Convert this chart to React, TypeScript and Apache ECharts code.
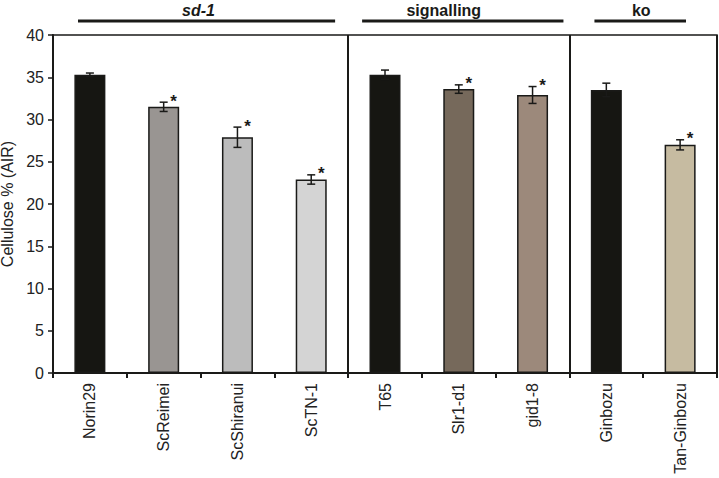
import React, { useEffect, useRef } from "react";
import * as echarts from "echarts";

const categories = ["Norin29", "ScReimei", "ScShiranui", "ScTN-1", "T65", "Slr1-d1", "gid1-8", "Ginbozu", "Tan-Ginbozu"];
const values = [35.3, 31.5, 27.9, 22.9, 35.3, 33.6, 32.9, 33.5, 27.0];
const errors = [0.2, 0.55, 1.2, 0.55, 0.55, 0.5, 1.0, 0.8, 0.6];
const significant = [false, true, true, true, false, true, true, false, true];
const barColors = ["#161612", "#999592", "#bcbcbc", "#d4d4d4", "#161612", "#76695b", "#9c897b", "#161612", "#c6bba1"];
const yTicks = { min: 0, max: 40, interval: 5 };
const groupNames = ["sd-1", "signalling", "ko"];
const groupStart = [0, 4, 7];
const groupEnd = [3, 6, 8];
const groupItalic = [true, false, false];

// layout offsets for the group annotations (pixels relative to group boundaries)
const groupLineInsetLeft = [25, 14, 25];
const groupLineInsetRight = [13, 6, 31];
const groupLabelShift = [-2, -15, -2];

const FONT = "'Liberation Sans', Arial, sans-serif";
const INK = "#1a1a18";

export default function App() {
  const ref = useRef<HTMLDivElement>(null);

  useEffect(() => {
    if (!ref.current) return;
    const chart = echarts.init(ref.current, undefined, { renderer: "svg" });

    const option: any = {
      animation: false,
      backgroundColor: "#ffffff",
      grid: {
        left: 53,
        right: 2,
        top: 35,
        bottom: 105,
        containLabel: false,
        outerBoundsMode: "none",
        show: true,
        borderColor: INK,
        borderWidth: 1.5,
        backgroundColor: "transparent",
      },
      xAxis: {
        type: "category",
        data: categories,
        boundaryGap: true,
        axisLine: { show: true, lineStyle: { color: INK, width: 2 } },
        axisTick: { show: true, inside: false, length: 5, alignWithLabel: false, lineStyle: { color: INK, width: 2 } },
        axisLabel: {
          interval: 0,
          rotate: 90,
          fontSize: 16,
          fontFamily: FONT,
          color: "#222",
          margin: 10,
        },
        splitLine: {
          show: true,
          interval: (index: number) => index === groupStart[1] || index === groupStart[2],
          lineStyle: { color: INK, width: 2 },
        },
      },
      yAxis: {
        type: "value",
        min: yTicks.min,
        max: yTicks.max,
        interval: yTicks.interval,
        name: "Cellulose % (AIR)",
        nameLocation: "middle",
        nameGap: 36,
        nameTextStyle: { fontSize: 16, fontFamily: FONT, color: "#222" },
        axisLine: { show: true, lineStyle: { color: INK, width: 2 } },
        axisTick: { show: true, inside: false, length: 5, lineStyle: { color: INK, width: 1.5 } },
        axisLabel: { fontSize: 16, fontFamily: FONT, color: "#222", margin: 9 },
        splitLine: { show: false },
      },
      series: [
        {
          type: "bar",
          barWidth: 31,
          data: values.map((v, i) => ({
            value: v,
            itemStyle: { color: barColors[i], borderColor: INK, borderWidth: 1.5 },
          })),
          z: 2,
        },
        {
          type: "custom",
          z: 5,
          clip: false,
          data: values.map((v, i) => [i, v, errors[i], significant[i] ? 1 : 0]),
          renderItem: (params: any, api: any) => {
            const idx = api.value(0);
            const v = api.value(1);
            const e = api.value(2);
            const sig = api.value(3);
            const top = api.coord([idx, v + e]);
            const bot = api.coord([idx, v - e]);
            const x = top[0];
            const hw = 4;
            const style = { stroke: INK, lineWidth: 1.5 };
            const children: any[] = [
              { type: "line", shape: { x1: x, y1: top[1], x2: x, y2: bot[1] }, style },
              { type: "line", shape: { x1: x - hw, y1: top[1], x2: x + hw, y2: top[1] }, style },
              { type: "line", shape: { x1: x - hw, y1: bot[1], x2: x + hw, y2: bot[1] }, style },
            ];
            if (sig) {
              children.push({
                type: "text",
                style: {
                  text: "*",
                  x: x + 10,
                  y: top[1] - 1,
                  align: "center",
                  verticalAlign: "middle",
                  fontSize: 17,
                  fontWeight: "bold",
                  fontFamily: FONT,
                  fill: INK,
                },
              });
            }
            return { type: "group", children };
          },
        },
      ],
    };

    chart.setOption(option);

    const c0 = chart.convertToPixel({ xAxisIndex: 0 }, 0) as number;
    const c1 = chart.convertToPixel({ xAxisIndex: 0 }, 1) as number;
    const band = c1 - c0;
    const graphics: any[] = [];
    groupNames.forEach((name, g) => {
      const left = (chart.convertToPixel({ xAxisIndex: 0 }, groupStart[g]) as number) - band / 2;
      const right = (chart.convertToPixel({ xAxisIndex: 0 }, groupEnd[g]) as number) + band / 2;
      graphics.push({
        type: "line",
        shape: { x1: left + groupLineInsetLeft[g], y1: 21, x2: right - groupLineInsetRight[g], y2: 21 },
        style: { stroke: INK, lineWidth: 3 },
      });
      graphics.push({
        type: "text",
        x: (left + right) / 2 + groupLabelShift[g],
        y: 10,
        style: {
          text: name,
          align: "center",
          verticalAlign: "middle",
          fontSize: 16,
          fontWeight: "bold",
          fontStyle: groupItalic[g] ? "italic" : "normal",
          fontFamily: FONT,
          fill: INK,
        },
      });
    });
    chart.setOption({ graphic: graphics });

    return () => {
      chart.dispose();
    };
  }, []);

  return (
    <div
      ref={ref}
      style={{ position: "fixed", left: 0, top: 0, width: 719, height: 478, background: "#fff" }}
    />
  );
}
